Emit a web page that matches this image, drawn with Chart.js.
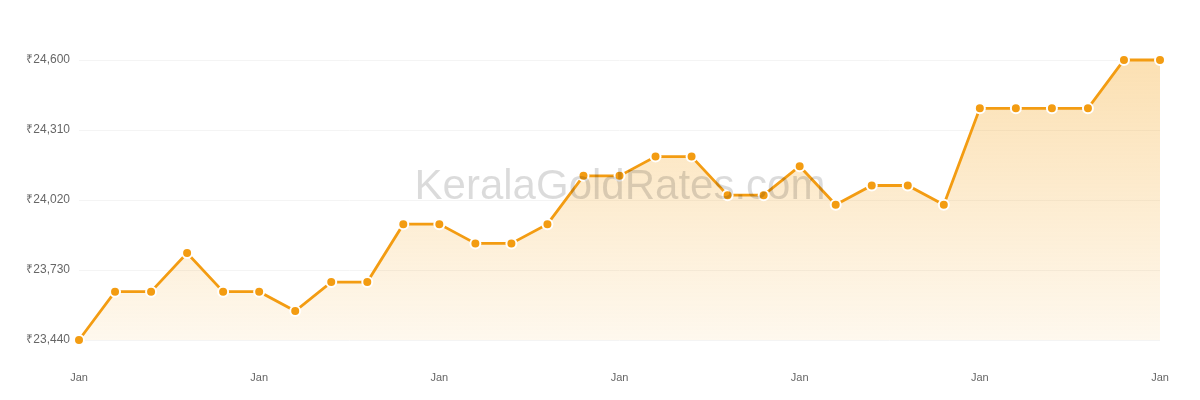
<!DOCTYPE html>
<html>
<head>
<meta charset="utf-8">
<script src="https://cdn.jsdelivr.net/npm/chart.js@4"></script>
<style>
  html, body { margin: 0; padding: 0; background: #fff; }
  #wrap { position: relative; width: 1200px; height: 400px; }
  #watermark {
    position: absolute; left: 0; width: 1200px; top: 161px;
    text-align: center; padding-left: 40px; box-sizing: border-box;
    font-family: "Liberation Sans", Arial, sans-serif; font-size: 42px;
    color: rgba(0, 0, 0, 0.14); pointer-events: none;
  }
</style>
</head>
<body>
<div id="wrap">
  <canvas id="goldChart" width="1200" height="400"></canvas>
  <div id="watermark">KeralaGoldRates.com</div>
</div>
<script>
// gia vang theo ngay, thang 1
const days = [];
for (let d = 1; d <= 31; d++) days.push("Jan " + d);

const prices = [
  23440, 23640, 23640, 23800, 23640, 23640, 23560, 23680, 23680, 23920,
  23920, 23840, 23840, 23920, 24120, 24120, 24200, 24200, 24040, 24040,
  24160, 24000, 24080, 24080, 24000, 24400, 24400, 24400, 24400, 24600,
  24600
];

const yTicks = [23440, 23730, 24020, 24310, 24600];

document.addEventListener("DOMContentLoaded", () => {
  const ctx = document.getElementById("goldChart").getContext("2d");

  const grad = ctx.createLinearGradient(0, 60, 0, 340);
  grad.addColorStop(0, "rgba(245, 166, 35, 0.35)");
  grad.addColorStop(1, "rgba(245, 166, 35, 0.08)");

  new Chart(ctx, {
    type: "line",
    data: {
      labels: days,
      datasets: [{
        data: prices,
        borderColor: "#F39C12",
        borderWidth: 2.8,
        backgroundColor: grad,
        fill: "start",
        tension: 0,
        clip: 8,
        pointRadius: 5,
        pointBackgroundColor: "#F39C12",
        pointBorderColor: "#fff",
        pointBorderWidth: 2
      }]
    },
    options: {
      responsive: false,
      animation: false,
      layout: { padding: { top: 60, right: 40, left: 0, bottom: 0 } },
      plugins: {
        legend: { display: false },
        tooltip: { enabled: false }
      },
      scales: {
        x: {
          grid: { display: false, drawTicks: false },
          border: { display: false },
          ticks: {
            autoSkip: false,
            maxRotation: 0,
            padding: 31,
            color: "#666",
            font: { family: "Liberation Sans", size: 11 },
            callback: (v, i) => (i % 5 === 0 ? "Jan" : null)
          },
          afterFit: s => { s.height = 60; }
        },
        y: {
          min: yTicks[0],
          max: yTicks[yTicks.length - 1],
          afterBuildTicks: s => { s.ticks = yTicks.map(v => ({ value: v })); },
          grid: { color: "#f4f4f4", drawTicks: false },
          border: { display: false },
          ticks: {
            padding: 9,
            color: "#666",
            font: { family: "Liberation Sans", size: 12 },
            callback: v => "₹" + v.toLocaleString("en-US")
          },
          afterFit: s => { s.width = 79; }
        }
      }
    }
  });
});
</script>
</body>
</html>
